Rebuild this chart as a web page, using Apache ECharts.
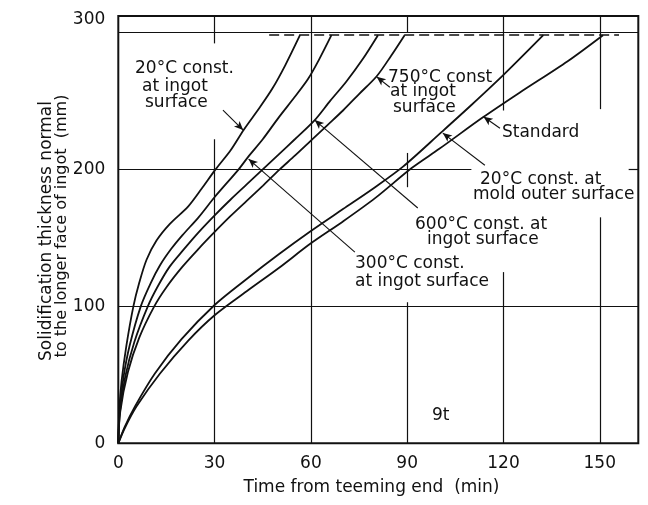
<!DOCTYPE html>
<html>
<head>
<meta charset="utf-8">
<script src="https://cdn.jsdelivr.net/npm/echarts@6/dist/echarts.min.js"></script>
<style>
  html, body { margin: 0; padding: 0; background: #fff; }
  #chart { width: 648px; height: 505px; }
</style>
</head>
<body>
<div id="chart"></div>
<script>
// Solidification thickness normal to the longer face (mm) against time from teeming end (min), 9 t ingot.
// Each curve: [time (min), thickness (mm)]
const ingot20C = [[0,0],[0.3,24],[1,45],[2.5,71],[4.7,100],[6.5,117],[8.8,134],[11.9,148],[16,160],[21.8,173],[26,186],[30.3,200],[35,214],[39.1,229],[44,245],[48,259],[52,276],[56.6,298]];
const ingot300C = [[0,0],[0.4,24],[1.6,48],[3.5,71],[7,100],[10.1,117],[13,130],[16.5,142],[20,152],[25,165],[30.1,180],[37.5,200],[40.4,209],[45,222],[50,238],[55,253],[59.1,266],[62.5,280],[66.4,298]];
const ingot600C = [[0,0],[0.5,23],[2.2,49],[5,74],[9.2,100],[12.4,115],[16,129],[20.2,141],[25,154],[30.1,166.6],[35,178],[40,189],[45,200],[50,211],[55,222],[61.2,236],[66,250],[71,264],[76,280],[80.9,298]];
const ingot750C = [[0,0],[0.6,23],[3,52],[6.5,77],[11.2,100],[15,114],[20,129],[25,142],[30.1,154.5],[35,166],[40,177],[45,188],[50.3,200],[55,210],[60,221],[65,232],[70,243],[75,255],[80.5,268],[85,283],[89.2,298]];
const mold20C = [[0,0],[2,12],[5.2,27],[11.4,51],[19.7,76],[30,101],[40,120],[50,138],[60,155],[70,171],[80,187],[88.7,202],[100.6,227],[110,247],[120,269],[132.4,298]];
const standard = [[0,0],[2,11],[5.7,27],[13,51],[21.8,75],[30,93.5],[40,111],[50,128],[60,146],[70,162],[80,179],[91.4,201],[100,215],[113.6,238],[125,256],[140,279],[151,298]];

const xTicks = [0, 30, 60, 90, 120, 150];
const yTicks = [0, 100, 200, 300];

// level at which the ingot is fully solid (dashed rule) and the time span it covers
const finalThickness = 298;
const finalSpan = [47, 156];

// ruled grid, drawn in pieces: [time, thickness from, thickness to]
const timeRules = [[30,0,222],[30,292,312],[60,0,312],[90,0,103],[90,187,212],[90,300,312],[120,0,125],[120,243,312],[150,0,165],[150,244,312]];
// [thickness, time from, time to]
const thicknessRules = [[100,0,162],[200,0,110],[200,159,162],[300,0,162]];

const INK = '#111';
const FONT = 'DejaVu Sans';

const curves = [ingot20C, ingot300C, ingot600C, ingot750C, mold20C, standard];

function segment(a, b) {
  return [{ coord: a }, { coord: b }];
}

// leader arrows: tail near the caption, head touching the curve
const leaders = [
  segment([32.6, 243.3], [38.9, 228.7]),
  segment([73.7, 139.6], [40.6, 207.5]),
  segment([93.3, 171.8], [61.2, 236]),
  segment([84.6, 260], [80.5, 267.6]),
  segment([114.2, 203], [101.1, 226.5]),
  segment([118.9, 230], [113.8, 238.4])
];

const rules = timeRules.map(r => segment([r[0], r[1]], [r[0], r[2]]))
  .concat(thicknessRules.map(r => segment([r[1], r[0]], [r[2], r[0]])));

const series = [
  {
    type: 'line', data: [], symbol: 'none', silent: true, z: 1,
    markLine: {
      silent: true, symbol: 'none', animation: false,
      label: { show: false },
      lineStyle: { color: INK, width: 1.2, type: 'solid' },
      data: rules
    }
  },
  {
    type: 'line', data: [], symbol: 'none', silent: true, z: 2,
    markLine: {
      silent: true, symbol: 'none', animation: false,
      label: { show: false },
      lineStyle: { color: INK, width: 1.5, type: [10, 5] },
      data: [segment([finalSpan[0], finalThickness], [finalSpan[1], finalThickness])]
    }
  },
  {
    type: 'line', data: [], symbol: 'none', silent: true, z: 3,
    markLine: {
      silent: true, symbol: ['none', 'arrow'], symbolSize: [6, 9], animation: false,
      label: { show: false },
      lineStyle: { color: INK, width: 1.1, type: 'solid' },
      data: leaders
    }
  }
].concat(curves.map(c => ({
  type: 'line',
  data: c,
  symbol: 'none',
  smooth: 0.3,
  z: 4,
  lineStyle: { color: INK, width: 1.8 },
  animation: false
})));

function caption(text, x, y) {
  return {
    type: 'text', x: x, y: y, silent: true,
    style: { text: text, fontSize: 17, fontFamily: FONT, fill: INK, align: 'left', verticalAlign: 'middle' }
  };
}

const chart = echarts.init(document.getElementById('chart'), null, { renderer: 'canvas' });

chart.setOption({
  animation: false,
  backgroundColor: '#fff',
  grid: {
    left: 118.3, right: 9.7, top: 16, bottom: 61.7,
    show: true, borderColor: INK, borderWidth: 2, backgroundColor: 'transparent'
  },
  xAxis: {
    type: 'value', min: 0, max: 162, interval: 30,
    axisLine: { show: false }, axisTick: { show: false }, splitLine: { show: false },
    axisLabel: {
      color: INK, fontSize: 17, fontFamily: FONT, margin: 12,
      formatter: v => (xTicks.includes(v) ? String(v) : '')
    }
  },
  yAxis: {
    type: 'value', min: 0, max: 312, interval: 100,
    axisLine: { show: false }, axisTick: { show: false }, splitLine: { show: false },
    axisLabel: {
      color: INK, fontSize: 17, fontFamily: FONT, margin: 13,
      formatter: v => (v === 300 ? '{top|300}' : (yTicks.includes(v) ? String(v) : '')),
      rich: { top: { color: INK, fontSize: 17, fontFamily: FONT, padding: [0, 0, 26, 0] } }
    }
  },
  series: series,
  graphic: [
    caption('20°C const.', 135, 69),
    caption('at ingot', 142, 86.7),
    caption('surface', 145, 103),
    caption('750°C const', 388, 77.5),
    caption('at ingot', 390, 92),
    caption('surface', 393, 108),
    caption('Standard', 502, 132.5),
    caption('20°C const. at', 480, 180),
    caption('mold outer surface', 473, 194.3),
    caption('600°C const. at', 415, 225),
    caption('ingot surface', 427, 240),
    caption('300°C const.', 355, 263.3),
    caption('at ingot surface', 355, 281.7),
    caption('9t', 432, 415.7),
    {
      type: 'text', x: 371.5, y: 488, silent: true,
      style: { text: 'Time from teeming end  (min)', fontSize: 17, fontFamily: FONT, fill: INK, align: 'center', verticalAlign: 'middle' }
    },
    {
      type: 'text', x: 47, y: 231, rotation: Math.PI / 2, silent: true,
      style: { text: 'Solidification thickness normal', fontSize: 17, fontFamily: FONT, fill: INK, align: 'center', verticalAlign: 'middle' }
    },
    {
      type: 'text', x: 62, y: 226, rotation: Math.PI / 2, silent: true,
      style: { text: 'to the longer face of ingot  (mm)', fontSize: 16, fontFamily: FONT, fill: INK, align: 'center', verticalAlign: 'middle' }
    }
  ]
});
</script>
</body>
</html>
